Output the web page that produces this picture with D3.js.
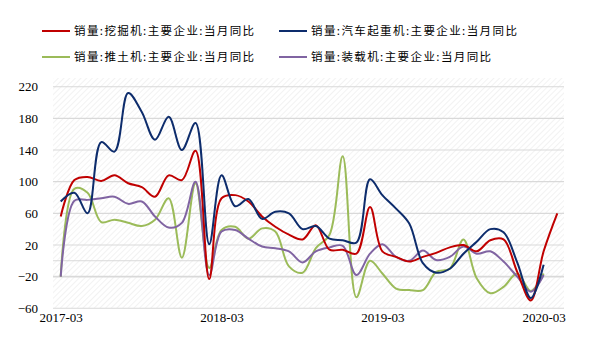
<!DOCTYPE html>
<html>
<head>
<meta charset="utf-8">
<script src="https://cdn.jsdelivr.net/npm/d3@7"></script>
<style>
  body { margin: 0; background: #fff; }
  svg { display: block; }
  .tick-label { font-family: "Liberation Serif", "Times New Roman", serif; font-size: 13px; fill: #000; }
  .legend-label { font-family: "Noto Sans CJK SC", sans-serif; font-size: 11.5px; letter-spacing: 1.4px; fill: #000; }
</style>
</head>
<body>
<div id="chart"></div>
<script>
// --- Daten ---
const seriesNames = [
  "销量:挖掘机:主要企业:当月同比",
  "销量:汽车起重机:主要企业:当月同比",
  "销量:推土机:主要企业:当月同比",
  "销量:装载机:主要企业:当月同比"
];
const seriesColors = ["#c00000", "#0d2c6c", "#9bbb59", "#8064a2"];

// monatlich ab 2017-03
const firstMonth = new Date(2017, 2, 1);
const excavator = [56, 102, 106, 101, 108, 98, 93, 81, 108, 102, 139, -23, 79, 83, 75, 56, 43, 33, 27, 45,
  14, 14, 9, 68, 12, 5, -1, 5, 10, 17, 20, 12, 26, 27, -14, -50, 12, 60];
const truckCrane = [75, 86, 60, 150, 138, 212, 188, 153, 182, 140, 174, 21, 108, 69, 78, 53, 62, 60, 40, 44,
  28, 26, 23, 103, 83, 66, 47, -3, -15, -10, 9, 24, 40, 36, -2, -47, -5];
const bulldozer = [-20, 91, 86, 49, 52, 48, 44, 52, 79, 4, 98, -9, 39, 43, 28, 41, 37, -7, -15, 16,
  33, 132, -46, 0, -16, -35, -37, -37, -14, -10, 27, -22, -41, -33, -16, -38, -16];
const loader = [-20, 76, 77, 79, 81, 72, 75, 56, 42, 48, 100, -18, 37, 39, 28, 18, 16, 12, -2, 12,
  17, 19, -18, 9, 21, 5, 0, 13, 1, 5, 18, 9, 12, -1, -20, -39, -18];
const allSeries = [excavator, truckCrane, bulldozer, loader];

const yTicks = [-60, -20, 20, 60, 100, 140, 180, 220];
const xTickLabels = ["2017-03", "2018-03", "2019-03", "2020-03"];

// --- Layout ---
const width = 607, height = 363;
const plot = { left: 53, right: 564, top: 78, bottom: 308 };

const svg = d3.select("#chart").append("svg")
  .attr("width", width)
  .attr("height", height);

const monthOf = i => d3.timeMonth.offset(firstMonth, i);
const parseMonth = d3.timeParse("%Y-%m");

const x = d3.scaleTime()
  .domain([firstMonth, monthOf(37)])
  .range([60.7, 557.3]);

const y = d3.scaleLinear()
  .domain([-60, 220])
  .range([308.3, 86.7]);

// Schraffierter Hintergrund
const defs = svg.append("defs");
const pat = defs.append("pattern")
  .attr("id", "hatch")
  .attr("patternUnits", "userSpaceOnUse")
  .attr("width", 4).attr("height", 4)
  .attr("patternTransform", "rotate(45)");
pat.append("line")
  .attr("x1", 0).attr("y1", 0).attr("x2", 0).attr("y2", 4)
  .attr("stroke", "#e9e9e9").attr("stroke-width", 1.2);

svg.append("rect")
  .attr("x", plot.left).attr("y", plot.top)
  .attr("width", plot.right - plot.left)
  .attr("height", plot.bottom - plot.top)
  .attr("fill", "url(#hatch)");

// Gitterlinien
const gridValues = yTicks.concat([0]);
svg.append("g").selectAll("line")
  .data(gridValues)
  .join("line")
  .attr("x1", plot.left).attr("x2", plot.right)
  .attr("y1", d => y(d)).attr("y2", d => y(d))
  .attr("stroke", "#d9d9d9")
  .attr("stroke-width", d => d === -20 ? 1.8 : 1.1);

// Y-Achse
const yAxis = d3.axisLeft(y).tickValues(yTicks).tickSize(0).tickPadding(0);
const yG = svg.append("g")
  .attr("transform", "translate(38,0)")
  .call(yAxis);
yG.select(".domain").remove();
yG.selectAll("text").attr("class", "tick-label").attr("font-family", null).attr("font-size", null);

// X-Achse
const xAxis = d3.axisBottom(x)
  .tickValues(xTickLabels.map(parseMonth))
  .tickFormat(d3.timeFormat("%Y-%m"))
  .tickSize(0).tickPadding(0);
const xG = svg.append("g")
  .attr("transform", "translate(0,313)")
  .call(xAxis);
xG.select(".domain").remove();
xG.selectAll("text").attr("class", "tick-label").attr("font-family", null).attr("font-size", null);

// Linien
const line = d3.line()
  .x((d, i) => x(monthOf(i)))
  .y(d => y(d))
  .curve(d3.curveCatmullRom.alpha(0.5));

const drawOrder = [2, 3, 0, 1];
svg.append("g").selectAll("path")
  .data(drawOrder)
  .join("path")
  .attr("d", k => line(allSeries[k]))
  .attr("fill", "none")
  .attr("stroke", k => seriesColors[k])
  .attr("stroke-width", 2)
  .attr("stroke-linejoin", "round");

// Legende
const legendPos = [[42, 31], [279, 31], [42, 57], [279, 57]];
const legend = svg.append("g").selectAll("g")
  .data(seriesNames)
  .join("g")
  .attr("transform", (d, i) => `translate(${legendPos[i][0]},${legendPos[i][1]})`);
legend.append("line")
  .attr("x1", 0).attr("x2", 28)
  .attr("stroke", (d, i) => seriesColors[i])
  .attr("stroke-width", 2);
legend.append("text")
  .attr("class", "legend-label")
  .attr("x", 32).attr("dy", "0.36em")
  .text(d => d);
</script>
</body>
</html>
